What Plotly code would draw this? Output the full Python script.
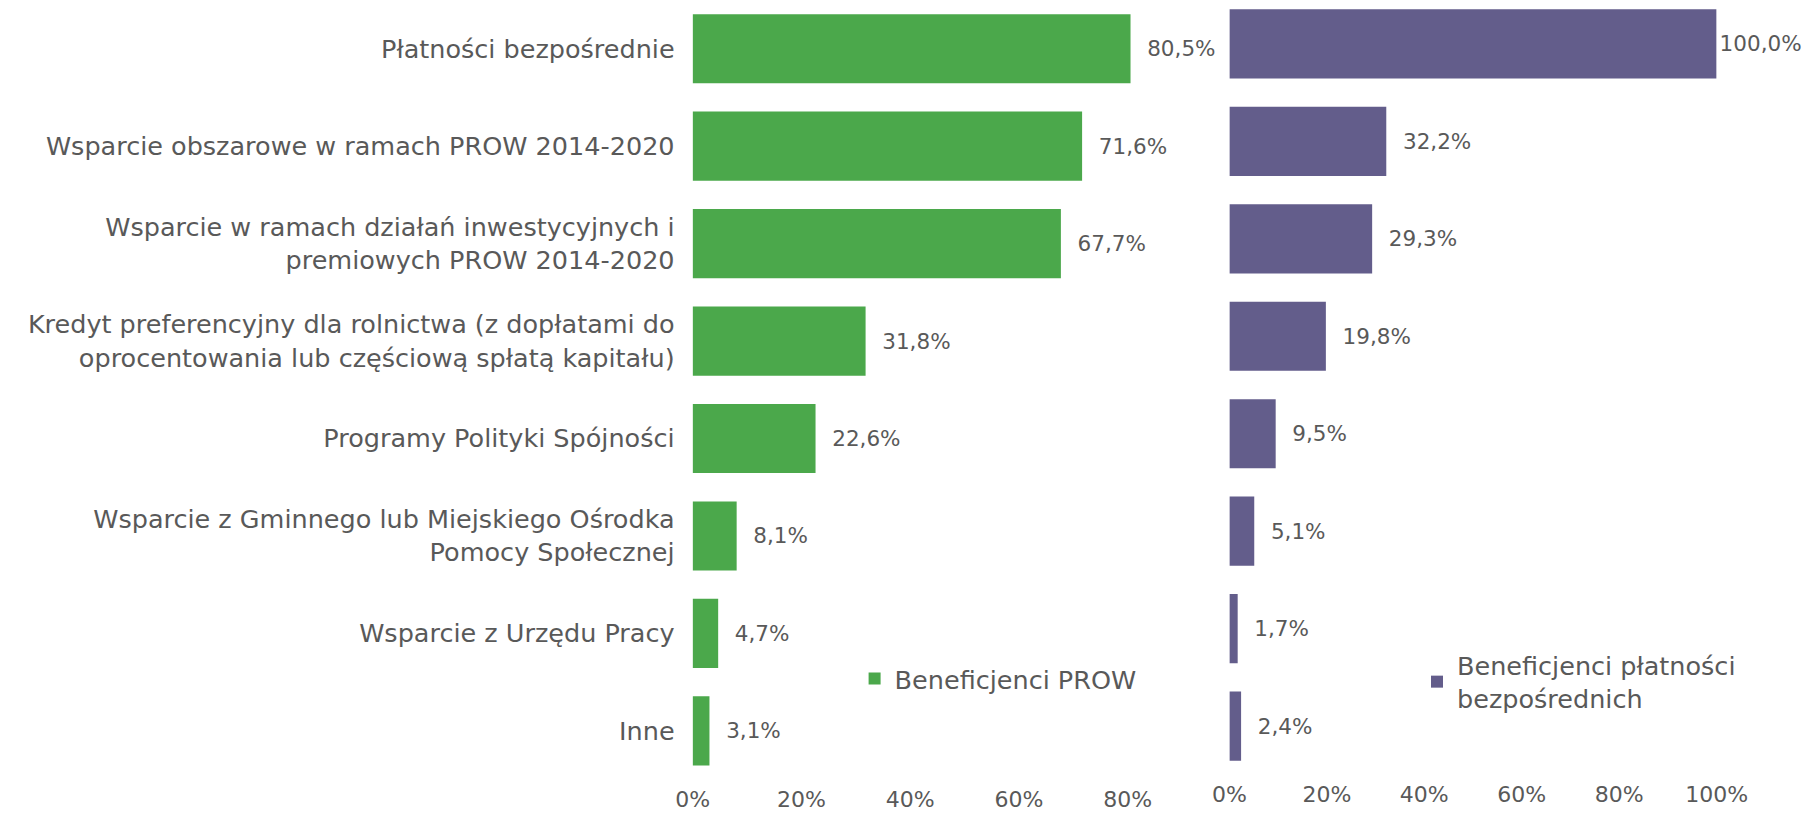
import plotly.graph_objects as go

categories = [
    "Płatności bezpośrednie",
    "Wsparcie obszarowe w ramach PROW 2014-2020",
    "Wsparcie w ramach działań inwestycyjnych i<br>premiowych PROW 2014-2020",
    "Kredyt preferencyjny dla rolnictwa (z dopłatami do<br>oprocentowania lub częściową spłatą kapitału)",
    "Programy Polityki Spójności",
    "Wsparcie z Gminnego lub Miejskiego Ośrodka<br>Pomocy Społecznej",
    "Wsparcie z Urzędu Pracy",
    "Inne",
]
prow_values = [80.5, 71.6, 67.7, 31.8, 22.6, 8.1, 4.7, 3.1]
direct_values = [100.0, 32.2, 29.3, 19.8, 9.5, 5.1, 1.7, 2.4]
left_ticks = [0, 20, 40, 60, 80]
right_ticks = [0, 20, 40, 60, 80, 100]
series_names = ["Beneficjenci PROW", "Beneficjenci płatności<br>bezpośrednich"]

GREEN = "#4BA84B"
PURPLE = "#635D8B"
GRAY = "#595959"
FONT = "DejaVu Sans"

OFF = 8                      # browser body margin
W, H = 1810 - 2 * OFF, 825 - 2 * OFF

CAT_FS = 25.5
LBL_FS = 21.5
TICK_FS = 22


def fmt(v):
    s = f"{v:.1f}%".replace(".", ",")
    return s if v >= 100 else "  " + s


fig = go.Figure()
fig.add_trace(go.Bar(
    y=categories, x=[v / 100 for v in prow_values], orientation="h",
    marker=dict(color=GREEN, line=dict(width=0)),
    text=[fmt(v) for v in prow_values], textposition="outside",
    textfont=dict(family=FONT, size=LBL_FS, color=GRAY),
    constraintext="none", cliponaxis=False,
    name=series_names[0], xaxis="x", yaxis="y", legend="legend",
    hoverinfo="skip",
))
fig.add_trace(go.Bar(
    y=categories, x=[v / 100 for v in direct_values], orientation="h",
    marker=dict(color=PURPLE, line=dict(width=0)),
    text=[fmt(v) for v in direct_values], textposition="outside",
    textfont=dict(family=FONT, size=LBL_FS, color=GRAY),
    constraintext="none", cliponaxis=False,
    name=series_names[1], xaxis="x2", yaxis="y2", legend="legend2",
    hoverinfo="skip",
))

# pixel geometry (page coords minus OFF)
x1_0, px1 = 692.6 - OFF, 544.0
x2_0, px2 = 1229.4 - OFF, 487.2
cat_h = 97.45
bottom1 = 779 - OFF
bottom2 = 774 - OFF
top1 = -0.5 + OFF / cat_h
top2 = -0.5 + (OFF + 4.8) / cat_h

left_max = 0.9
fig.update_layout(
    width=W, height=H,
    margin=dict(l=0, r=0, t=0, b=0, autoexpand=False),
    paper_bgcolor="white", plot_bgcolor="white",
    bargap=0.29,
    showlegend=True,
    font=dict(family=FONT, color=GRAY, size=CAT_FS),
    xaxis=dict(
        domain=[x1_0 / W, (x1_0 + px1 * left_max) / W],
        range=[0, left_max], tickvals=[t / 100 for t in left_ticks],
        ticktext=[f"{t}%" for t in left_ticks],
        showgrid=False, zeroline=False, showline=False, ticks="",
        ticklabelstandoff=5, automargin=False,
        tickfont=dict(family=FONT, size=TICK_FS, color=GRAY), anchor="y",
    ),
    yaxis=dict(
        type="category",
        domain=[1 - bottom1 / H, 1],
        range=[top1 + bottom1 / cat_h, top1],
        showgrid=False, zeroline=False, showline=False, ticks="",
        ticklabelstandoff=17,
        tickfont=dict(family=FONT, size=CAT_FS, color=GRAY), anchor="x",
        automargin=False,
    ),
    xaxis2=dict(
        domain=[x2_0 / W, (x2_0 + px2) / W],
        range=[0, 1], tickvals=[t / 100 for t in right_ticks],
        ticktext=[f"{t}%" for t in right_ticks],
        showgrid=False, zeroline=False, showline=False, ticks="",
        ticklabelstandoff=5, automargin=False,
        tickfont=dict(family=FONT, size=TICK_FS, color=GRAY), anchor="y2",
    ),
    yaxis2=dict(
        type="category",
        domain=[1 - bottom2 / H, 1],
        range=[top2 + bottom2 / cat_h, top2],
        showgrid=False, zeroline=False, showline=False, ticks="",
        showticklabels=False, anchor="x2", automargin=False,
    ),
    legend=dict(
        xref="container", yref="container",
        x=846.6 / W, y=1 - 671 / H, xanchor="left", yanchor="middle",
        bgcolor="rgba(0,0,0,0)", font=dict(family=FONT, size=CAT_FS, color=GRAY),
        itemwidth=30,
    ),
    legend2=dict(
        xref="container", yref="container",
        x=1409 / W, y=1 - 634 / H, xanchor="left", yanchor="top",
        bgcolor="rgba(0,0,0,0)", font=dict(family=FONT, size=CAT_FS, color=GRAY),
        itemwidth=30,
    ),
)

fig.write_html("out.html")
